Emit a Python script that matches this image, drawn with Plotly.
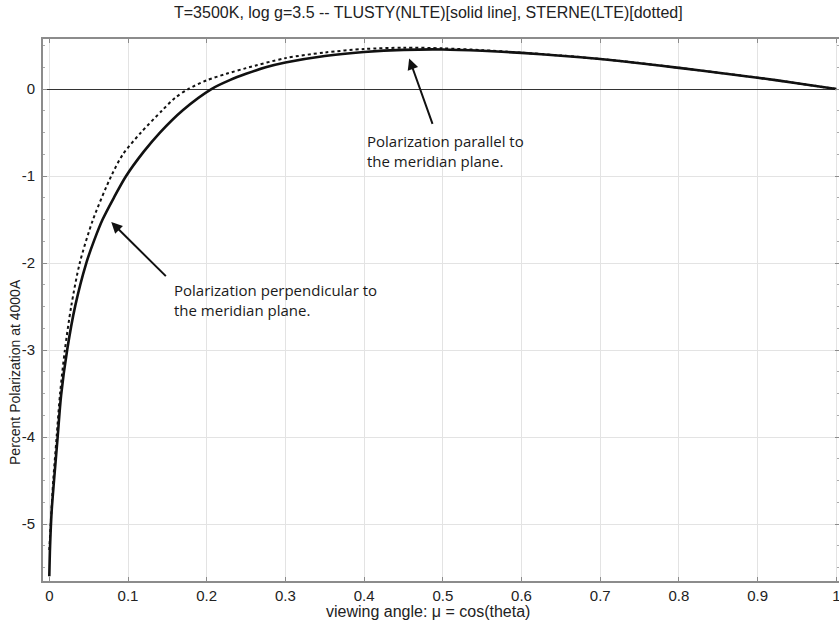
import plotly.graph_objects as go

# TLUSTY (NLTE) - solid line
mu_nlte = [0.0, 0.001, 0.003, 0.006, 0.0106, 0.015, 0.0227, 0.033, 0.047, 0.057,
           0.0677, 0.082, 0.0976, 0.12, 0.1406, 0.17, 0.206, 0.23, 0.25, 0.275,
           0.3, 0.35, 0.4, 0.45, 0.5, 0.55, 0.6, 0.65, 0.7, 0.75,
           0.8, 0.85, 0.9, 0.95, 1.0]
p_nlte = [-5.6, -5.25, -4.85, -4.5, -4.0, -3.52, -3.0, -2.49, -2.0, -1.74,
          -1.5, -1.25, -1.0, -0.72, -0.5, -0.24, 0.0, 0.105, 0.175, 0.25,
          0.305, 0.38, 0.425, 0.45, 0.455, 0.44, 0.415, 0.383, 0.345, 0.297,
          0.243, 0.187, 0.13, 0.067, 0.0]

# STERNE (LTE) - dotted line
mu_lte = [0.0, 0.0018, 0.005, 0.0093, 0.0137, 0.0198, 0.0278, 0.0387, 0.0556, 0.0787,
          0.0936, 0.1165, 0.143, 0.16, 0.1766, 0.2, 0.225, 0.25, 0.3, 0.35,
          0.4, 0.45, 0.5, 0.55, 0.6, 0.65, 0.7, 0.75, 0.8, 0.85,
          0.9, 0.95, 1.0]
p_lte = [-5.3, -5.0, -4.5, -4.0, -3.5, -3.0, -2.5, -2.0, -1.5, -1.0,
         -0.75, -0.5, -0.25, -0.1, 0.0, 0.1, 0.175, 0.24, 0.355, 0.42,
         0.46, 0.475, 0.468, 0.447, 0.418, 0.385, 0.346, 0.298, 0.244, 0.188,
         0.131, 0.067, 0.0]

x_ticks = [0, 0.1, 0.2, 0.3, 0.4, 0.5, 0.6, 0.7, 0.8, 0.9, 1]
x_labels = ["0", "0.1", "0.2", "0.3", "0.4", "0.5", "0.6", "0.7", "0.8", "0.9", "1"]
y_ticks = [0, -1, -2, -3, -4, -5]
y_labels = ["0", "-1", "-2", "-3", "-4", "-5"]

title_text = "T=3500K, log g=3.5 -- TLUSTY(NLTE)[solid line], STERNE(LTE)[dotted]"
x_title = "viewing angle: \u03bc = cos(theta)"
y_title = "Percent Polarization at 4000A"
note_par = "Polarization parallel to<br>the meridian plane."
note_perp = "Polarization perpendicular to<br>the meridian plane."

fig = go.Figure()
fig.add_trace(go.Scatter(x=mu_lte, y=p_lte, mode="lines",
                         line=dict(color="#111", width=2, dash="dot", shape="spline", smoothing=0.8),
                         showlegend=False, hoverinfo="skip"))
fig.add_trace(go.Scatter(x=mu_nlte, y=p_nlte, mode="lines",
                         line=dict(color="#111", width=2.6, shape="spline", smoothing=0.8),
                         showlegend=False, hoverinfo="skip"))

base = "Liberation Sans, Arial, sans-serif"
tick_font = dict(family=base, size=15, color="#222")
note_font = dict(family="Open Sans, sans-serif", size=15, color="#1a1a1a")

fig.update_layout(
    width=839, height=626,
    template="none",
    paper_bgcolor="white", plot_bgcolor="white",
    margin=dict(l=43, r=0, t=39, b=45),
    showlegend=False,
    xaxis=dict(range=[-0.008, 1.0034], tickvals=x_ticks, ticktext=x_labels,
               showgrid=True, gridcolor="#e3e3e3", gridwidth=1,
               zeroline=False, showline=True, linecolor="#8c8c8c", linewidth=1.6,
               mirror="ticks", ticks="inside", ticklen=4, tickcolor="#8c8c8c",
               ticklabeloverflow="allow",
               tickfont=tick_font, automargin=False),
    yaxis=dict(range=[-5.655, 0.575], tickvals=y_ticks, ticktext=y_labels,
               showgrid=True, gridcolor="#e3e3e3", gridwidth=1,
               zeroline=True, zerolinecolor="#333", zerolinewidth=1.4,
               showline=True, linecolor="#8c8c8c", linewidth=1.6,
               mirror="ticks", ticks="inside", ticklen=4, tickcolor="#8c8c8c",
               ticklabelstandoff=3,
               minor=dict(dtick=0.25, tick0=0, ticks="inside", ticklen=2.5, tickcolor="#aaa", showgrid=False),
               tickfont=tick_font, automargin=False),
)

annotations = [
    dict(text=title_text, xref="paper", yref="paper", x=0.4837, y=1.0498,
         showarrow=False, font=dict(family=base, size=16, color="#222"),
         xanchor="center", yanchor="middle"),
    dict(text=x_title, xref="paper", yref="paper", x=0.4837, y=-0.0554,
         showarrow=False, font=dict(family=base, size=16, color="#222"),
         xanchor="center", yanchor="middle"),
    dict(text=y_title, xref="paper", yref="paper", x=-0.0352, y=0.3856,
         showarrow=False, font=dict(family=base, size=14, color="#222"),
         textangle=-90, xanchor="center", yanchor="middle"),
    dict(text=note_par, xref="x", yref="y", x=0.4006, y=-0.455,
         showarrow=False, font=note_font, xanchor="left", yanchor="top", align="left"),
    dict(text=note_perp, xref="x", yref="y", x=0.1554, y=-2.175,
         showarrow=False, font=note_font, xanchor="left", yanchor="top", align="left"),
    dict(text="", xref="x", yref="y", x=0.4573, y=0.35, axref="x", ayref="y",
         ax=0.4876, ay=-0.417, showarrow=True, arrowhead=2, arrowsize=1.1,
         arrowwidth=2, arrowcolor="#111"),
    dict(text="", xref="x", yref="y", x=0.0787, y=-1.529, axref="x", ayref="y",
         ax=0.150, ay=-2.168, showarrow=True, arrowhead=2, arrowsize=1.1,
         arrowwidth=2, arrowcolor="#111"),
]
fig.update_layout(annotations=annotations)

fig.write_html("out.html",
               config={"displayModeBar": False},
               post_script="document.body.style.margin='0';document.body.style.overflow='hidden';")
